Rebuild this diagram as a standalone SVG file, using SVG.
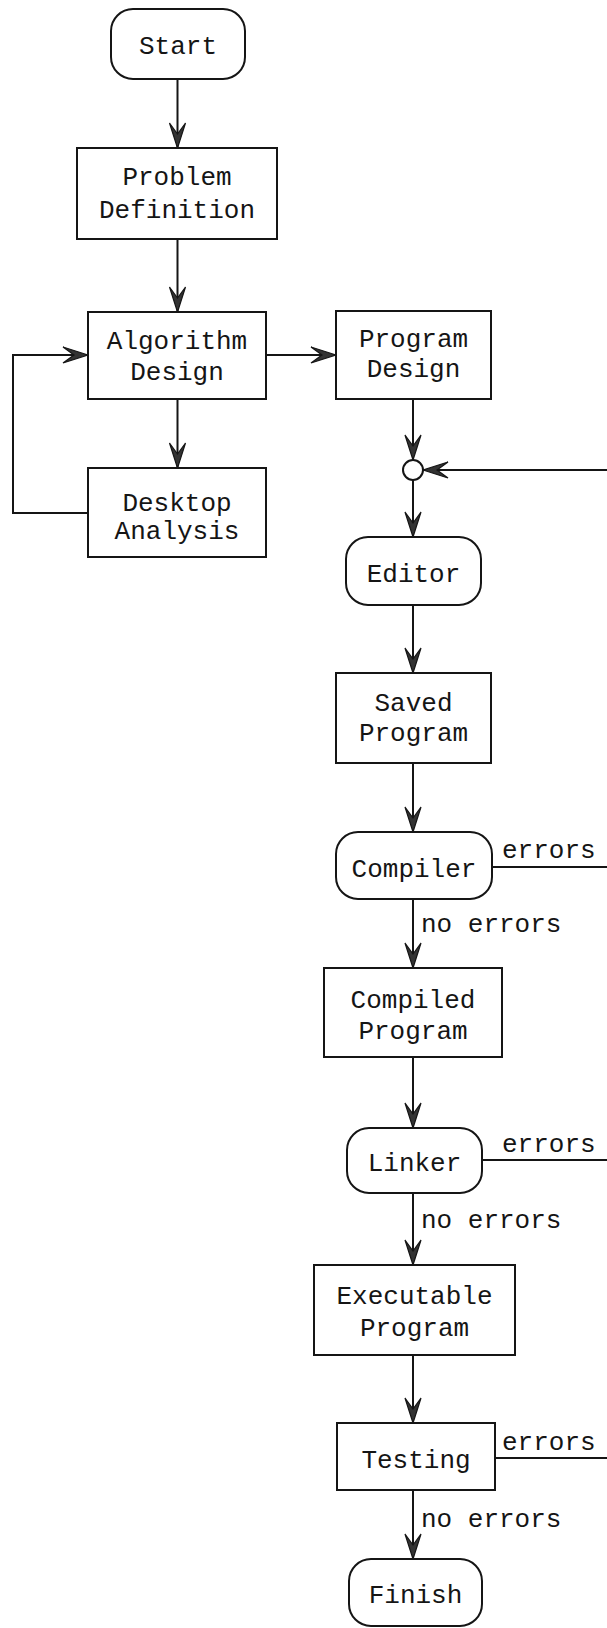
<svg xmlns="http://www.w3.org/2000/svg" width="607" height="1628" viewBox="0 0 607 1628">
  <style>
    .box { fill: #ffffff; stroke: #151515; stroke-width: 2; }
    .term { fill: #ffffff; stroke: #151515; stroke-width: 2; }
    .lbl { font-family: "Liberation Mono", "Courier New", monospace; font-size: 26px; fill: #151515; text-anchor: middle; }
    .note { font-family: "Liberation Mono", "Courier New", monospace; font-size: 26px; fill: #151515; }
    .edge { fill: none; stroke: #151515; stroke-width: 2; }
    .arrow { marker-end: url(#head); }
  </style>
  <defs>
    <!-- barbed arrowhead, tip at the line end -->
    <marker id="head" markerUnits="userSpaceOnUse" markerWidth="30" markerHeight="22" viewBox="-27 -11 30 22" refX="0" refY="0" orient="auto">
      <path d="M0,0 L-25,-8 L-14,0 L-25,8 Z" fill="#333333" stroke="#151515" stroke-width="1.2" stroke-linejoin="miter"/>
    </marker>
  </defs>
  <rect width="607" height="1628" fill="#ffffff"/>

  <!-- connectors -->
  <g id="connectors">
    <line class="edge arrow" x1="177.5" y1="79" x2="177.5" y2="148"/>
    <line class="edge arrow" x1="177.5" y1="239" x2="177.5" y2="312"/>
    <line class="edge arrow" x1="177.5" y1="399" x2="177.5" y2="468"/>
    <line class="edge arrow" x1="266" y1="355" x2="336" y2="355"/>
    <polyline class="edge arrow" points="88,513 13,513 13,355 88,355"/>
    <line class="edge arrow" x1="413" y1="399" x2="413" y2="460"/>
    <line class="edge arrow" x1="413" y1="480" x2="413" y2="537"/>
    <line class="edge arrow" x1="607" y1="470" x2="423" y2="470"/>
    <line class="edge arrow" x1="413" y1="605" x2="413" y2="673"/>
    <line class="edge arrow" x1="413" y1="763" x2="413" y2="832"/>
    <line class="edge arrow" x1="413" y1="899" x2="413" y2="968"/>
    <line class="edge arrow" x1="413" y1="1057" x2="413" y2="1128"/>
    <line class="edge arrow" x1="413" y1="1193" x2="413" y2="1265"/>
    <line class="edge arrow" x1="413" y1="1355" x2="413" y2="1423"/>
    <line class="edge arrow" x1="413" y1="1490" x2="413" y2="1559"/>
    <line class="edge" x1="492" y1="867" x2="607" y2="867"/>
    <line class="edge" x1="482" y1="1160" x2="607" y2="1160"/>
    <line class="edge" x1="495" y1="1458" x2="607" y2="1458"/>
    <text class="note" x="502" y="858">errors</text>
    <text class="note" x="421" y="932">no errors</text>
    <text class="note" x="502" y="1152">errors</text>
    <text class="note" x="421" y="1228">no errors</text>
    <text class="note" x="502" y="1450">errors</text>
    <text class="note" x="421" y="1527">no errors</text>
  </g>

  <!-- left column -->
  <g id="start">
    <rect class="term" x="111" y="9" width="134" height="70" rx="22" ry="22"/>
    <text class="lbl" x="178" y="54">Start</text>
  </g>
  <g id="problem-definition">
    <rect class="box" x="77" y="148" width="200" height="91"/>
    <text class="lbl" x="177" y="185">Problem</text>
    <text class="lbl" x="177" y="218">Definition</text>
  </g>
  <g id="algorithm-design">
    <rect class="box" x="88" y="312" width="178" height="87"/>
    <text class="lbl" x="177" y="349">Algorithm</text>
    <text class="lbl" x="177" y="380">Design</text>
  </g>
  <g id="desktop-analysis">
    <rect class="box" x="88" y="468" width="178" height="89"/>
    <text class="lbl" x="177" y="511">Desktop</text>
    <text class="lbl" x="177" y="539">Analysis</text>
  </g>

  <!-- right column -->
  <g id="program-design">
    <rect class="box" x="336" y="311" width="155" height="88"/>
    <text class="lbl" x="413.5" y="347">Program</text>
    <text class="lbl" x="413.5" y="377">Design</text>
  </g>
  <g id="merge">
    <circle cx="413" cy="470" r="10" fill="#ffffff" stroke="#151515" stroke-width="2"/>
  </g>
  <g id="editor">
    <rect class="term" x="346" y="537" width="135" height="68" rx="22" ry="22"/>
    <text class="lbl" x="413.5" y="582">Editor</text>
  </g>
  <g id="saved-program">
    <rect class="box" x="336" y="673" width="155" height="90"/>
    <text class="lbl" x="413.5" y="711">Saved</text>
    <text class="lbl" x="413.5" y="741">Program</text>
  </g>
  <g id="compiler">
    <rect class="term" x="336" y="832" width="156" height="67" rx="22" ry="22"/>
    <text class="lbl" x="414" y="877">Compiler</text>
  </g>
  <g id="compiled-program">
    <rect class="box" x="324" y="968" width="178" height="89"/>
    <text class="lbl" x="413" y="1008">Compiled</text>
    <text class="lbl" x="413" y="1039">Program</text>
  </g>
  <g id="linker">
    <rect class="term" x="347" y="1128" width="135" height="65" rx="22" ry="22"/>
    <text class="lbl" x="414.5" y="1171">Linker</text>
  </g>
  <g id="executable-program">
    <rect class="box" x="314" y="1265" width="201" height="90"/>
    <text class="lbl" x="414.5" y="1304">Executable</text>
    <text class="lbl" x="414.5" y="1336">Program</text>
  </g>
  <g id="testing">
    <rect class="box" x="337" y="1423" width="158" height="67"/>
    <text class="lbl" x="416" y="1468">Testing</text>
  </g>
  <g id="finish">
    <rect class="term" x="349" y="1559" width="133" height="67" rx="22" ry="22"/>
    <text class="lbl" x="415.5" y="1603">Finish</text>
  </g>
</svg>
